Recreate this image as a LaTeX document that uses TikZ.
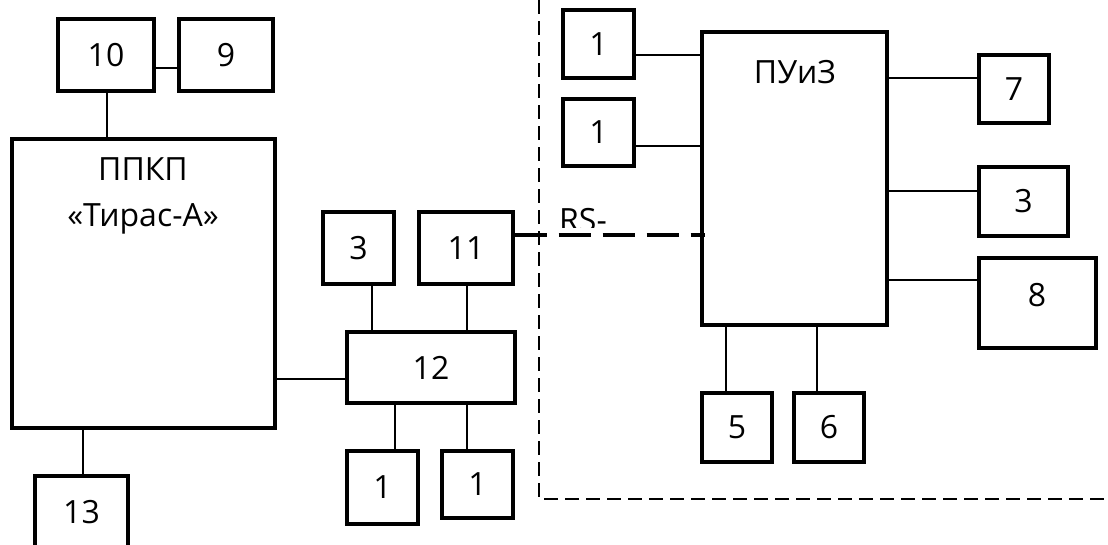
\documentclass[tikz,border=0pt]{standalone}
\usepackage{fontspec}
\setmainfont{Open Sans}
\begin{document}
\begin{tikzpicture}[x=1pt,y=-1pt,
  blk/.style={draw,line width=3.3pt,inner sep=0pt,font=\fontsize{32}{40}\selectfont},
  wire/.style={line width=1.5pt},
  bus/.style={line width=3.3pt,dash pattern=on 32pt off 12pt},
  zone/.style={line width=2.4pt,dash pattern=on 14pt off 7pt},
  txt/.style={font=\fontsize{32}{40}\selectfont,inner sep=0pt,align=center}]
\clip (0,0) rectangle (1108,544);
\fill[white] (0,0) rectangle (1108,544);

% left part: control panel and its periphery
\node[blk,minimum width=96,minimum height=72] (b10) at (106,55) {10};
\node[blk,minimum width=94,minimum height=72] (b9) at (226,55) {9};
\node[blk,minimum width=263,minimum height=289] (ppkp) at (143.5,283.5) {};
\node[txt] (ppkpt) at (143,196) {ППКП\\[6pt]«Тирас-А»};
\node[blk,minimum width=93,minimum height=72] (b13) at (81.5,512) {13};
\node[blk,minimum width=71,minimum height=72] (b3l) at (358.5,248) {3};
\node[blk,minimum width=94,minimum height=72] (b11) at (466,248) {11};
\node[blk,minimum width=168,minimum height=71] (b12) at (431,367.5) {12};
\node[blk,minimum width=71,minimum height=73] (b1a) at (382.5,487.5) {1};
\node[blk,minimum width=71,minimum height=67] (b1b) at (477.5,484.5) {1};

% right part: control unit and its periphery
\node[blk,minimum width=71,minimum height=68] (b1c) at (598.5,44) {1};
\node[blk,minimum width=71,minimum height=67] (b1d) at (598.5,132.5) {1};
\node[blk,minimum width=185,minimum height=293] (puiz) at (794.5,178.5) {};
\node[txt] (puizt) at (795,72) {ПУиЗ};
\node[blk,minimum width=70,minimum height=68] (b7) at (1014,89) {7};
\node[blk,minimum width=89,minimum height=69] (b3r) at (1023.5,201.5) {3};
\node[blk,minimum width=117,minimum height=90] (b8) at (1037.5,303) {};
\node[txt] (b8t) at (1037,295) {8};
\node[blk,minimum width=70,minimum height=69] (b5) at (737,427.5) {5};
\node[blk,minimum width=70,minimum height=69] (b6) at (829,427.5) {6};

% plain links
\draw[wire] (b10.east |- 0,68) -- (b9.west |- 0,68);
\draw[wire] (b10.south -| 107,0) -- (ppkp.north -| 107,0);
\draw[wire] (ppkp.south -| 83,0) -- (b13.north -| 83,0);
\draw[wire] (ppkp.east |- 0,379) -- (b12.west |- 0,379);
\draw[wire] (b3l.south -| 372,0) -- (b12.north -| 372,0);
\draw[wire] (b11.south -| 467,0) -- (b12.north -| 467,0);
\draw[wire] (b12.south -| 395,0) -- (b1a.north -| 395,0);
\draw[wire] (b12.south -| 467,0) -- (b1b.north -| 467,0);
\draw[wire] (b1c.east |- 0,55) -- (puiz.west |- 0,55);
\draw[wire] (b1d.east |- 0,146) -- (puiz.west |- 0,146);
\draw[wire] (puiz.east |- 0,78) -- (b7.west |- 0,78);
\draw[wire] (puiz.east |- 0,191) -- (b3r.west |- 0,191);
\draw[wire] (puiz.east |- 0,280) -- (b8.west |- 0,280);
\draw[wire] (puiz.south -| 726,0) -- (b5.north -| 726,0);
\draw[wire] (puiz.south -| 817,0) -- (b6.north -| 817,0);

% RS interface link
\draw[bus] (b11.east |- 0,235) -- ([xshift=5pt]puiz.west |- 0,235);
\begin{scope}
  \clip (0,0) rectangle (1108,227);
  \node[txt,anchor=base west] (rs) at (559,231) {RS-};
\end{scope}

% boundary of the remote zone
\coordinate (zt) at (539,0);
\coordinate (zc) at (539,499);
\coordinate (zr) at (1108,499);
\draw[zone] (zt) -- (zc) -- (zr);
\end{tikzpicture}
\end{document}
